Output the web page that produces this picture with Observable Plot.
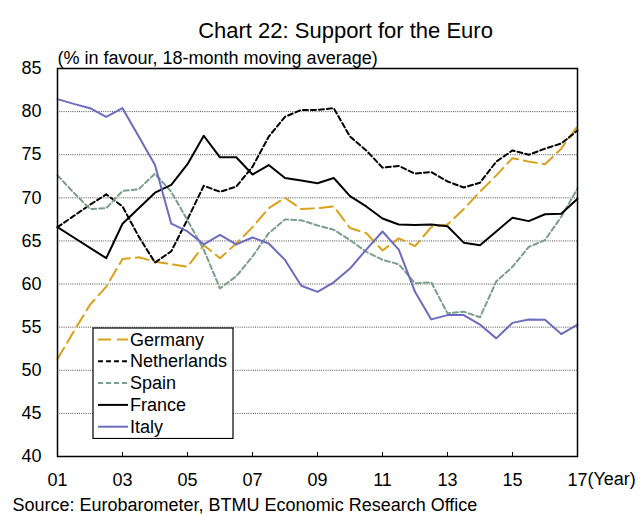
<!DOCTYPE html>
<html>
<head>
<meta charset="utf-8">
<script src="https://cdn.jsdelivr.net/npm/d3@7"></script>
<script src="https://cdn.jsdelivr.net/npm/@observablehq/plot@0.6"></script>
<style>
  html, body { margin: 0; padding: 0; background: #fff; }
  #wrap { position: relative; width: 640px; height: 514px; font-family: "Liberation Sans", Arial, sans-serif; }
</style>
</head>
<body>
<div id="wrap"></div>
<script>
const years = [2001,2001.5,2002,2002.5,2003,2003.5,2004,2004.5,2005,2005.5,2006,2006.5,2007,2007.5,2008,2008.5,2009,2009.5,2010,2010.5,2011,2011.5,2012,2012.5,2013,2013.5,2014,2014.5,2015,2015.5,2016,2016.5,2017];
const germany     = [51.3,54.5,57.6,59.7,62.9,63.1,62.6,62.3,62.0,64.5,63.0,64.7,66.6,68.8,70.0,68.7,68.8,69.0,66.5,65.9,63.9,65.3,64.4,66.6,66.9,68.7,70.7,72.6,74.6,74.2,73.9,75.7,78.3];
const netherlands = [66.6,67.9,69.2,70.4,69.0,65.5,62.5,63.8,67.5,71.4,70.7,71.3,73.6,77.1,79.4,80.2,80.2,80.4,77.1,75.5,73.5,73.7,72.8,73.0,71.9,71.2,71.75,74.2,75.5,75.0,75.7,76.3,77.8];
const spain       = [72.6,70.6,68.7,68.8,70.8,71.0,72.8,70.7,67.4,64.0,59.5,60.9,63.2,65.9,67.5,67.4,66.8,66.3,65.1,63.75,62.8,62.3,60.1,60.2,56.6,56.8,56.15,60.3,62.0,64.3,65.1,67.8,71.1];
const france      = [66.6,65.4,64.2,63.0,67.0,68.8,70.6,71.5,73.9,77.2,74.7,74.7,72.7,73.8,72.3,72.0,71.7,72.3,70.2,69.0,67.6,66.9,66.85,66.9,66.7,64.8,64.5,66.1,67.7,67.3,68.1,68.15,69.9];
const italy       = [81.45,80.9,80.4,79.4,80.4,77.1,73.8,67.0,66.1,64.6,65.7,64.6,65.4,64.7,62.8,59.8,59.1,60.2,61.8,64.0,66.1,64.0,59.1,55.9,56.4,56.4,55.3,53.7,55.5,55.9,55.85,54.2,55.3];

const seriesNames = ["Germany","Netherlands","Spain","France","Italy"];
const seriesValues = [germany, netherlands, spain, france, italy];
const xTicks = [2001,2003,2005,2007,2009,2011,2013,2015,2017];
const yTicks = [40,45,50,55,60,65,70,75,80,85];
const gridTicks = [45,50,55,60,65,70,75,80];

const title = "Chart 22: Support for the Euro";
const subtitle = "(% in favour, 18-month moving average)";
const source = "Source: Eurobarometer, BTMU Economic Research Office";
const xUnit = "(Year)";

const styles = {
  Germany:     {stroke: "#D9A11A", dash: "13,6"},
  Netherlands: {stroke: "#000000", dash: "5,3"},
  Spain:       {stroke: "#7A9E8C", dash: "5,3"},
  France:      {stroke: "#000000", dash: null},
  Italy:       {stroke: "#6B6BBF", dash: null}
};

const lineMarks = seriesNames.map((name, s) => {
  const rows = years.map((yr, i) => ({year: yr, v: seriesValues[s][i]}));
  return Plot.line(rows, {x: "year", y: "v", stroke: styles[name].stroke, strokeWidth: 2, strokeDasharray: styles[name].dash, strokeLinejoin: "round"});
});

const font = "Liberation Sans, Arial, sans-serif";

const chart = Plot.plot({
  width: 640,
  height: 514,
  marginLeft: 57,
  marginRight: 63,
  marginTop: 68,
  marginBottom: 58,
  style: {fontFamily: font, fontSize: "18px", color: "#000", background: "#fff", overflow: "visible"},
  x: {domain: [2001, 2017]},
  y: {domain: [40, 85]},
  marks: [
    Plot.gridY(gridTicks, {stroke: "#000", strokeOpacity: 0.7, strokeDasharray: "1,1.2", strokeWidth: 1}),
    Plot.axisY({ticks: yTicks, tickSize: 0, tickPadding: 16, label: null, fontSize: 18}),
    Plot.axisX({ticks: xTicks, tickSize: 0, tickPadding: 17, label: null, fontSize: 18, tickFormat: d => String(d % 100).padStart(2, "0")}),
    Plot.axisX({ticks: xTicks, tickSize: -4, label: null, tickFormat: () => ""}),
    ...lineMarks,
    Plot.frame({stroke: "#000", strokeWidth: 1.5}),
    Plot.text([title], {frameAnchor: "top-left", dx: 288, dy: -46, textAnchor: "middle", fontSize: 22}),
    Plot.text([subtitle], {frameAnchor: "top-left", dx: 0, dy: -17, textAnchor: "start", fontSize: 18}),
    Plot.text([source], {frameAnchor: "bottom-left", dx: -45, dy: 54, textAnchor: "start", fontSize: 18}),
    Plot.text([xUnit], {frameAnchor: "bottom-right", dx: 10, dy: 28, textAnchor: "start", fontSize: 18})
  ]
});
chart.style.position = "absolute";
chart.style.left = "0px";
chart.style.top = "0px";
const wrap = document.getElementById("wrap");
wrap.appendChild(chart);

// legend
const rowH = 21.8;
const lw = 140, lh = 110.5;
const ns = "http://www.w3.org/2000/svg";
const leg = document.createElementNS(ns, "svg");
leg.setAttribute("width", lw + 2);
leg.setAttribute("height", lh + 2);
leg.style.position = "absolute";
leg.style.left = "92px";
leg.style.top = "326.5px";
leg.style.fontFamily = font;
const box = document.createElementNS(ns, "rect");
box.setAttribute("x", 1); box.setAttribute("y", 1);
box.setAttribute("width", lw); box.setAttribute("height", lh);
box.setAttribute("fill", "#fff"); box.setAttribute("stroke", "#000"); box.setAttribute("stroke-width", 1.2);
leg.appendChild(box);
seriesNames.forEach((name, i) => {
  const cy = 12.5 + i * rowH;
  const ln = document.createElementNS(ns, "line");
  ln.setAttribute("x1", 6); ln.setAttribute("x2", 36);
  ln.setAttribute("y1", cy); ln.setAttribute("y2", cy);
  ln.setAttribute("stroke", styles[name].stroke);
  ln.setAttribute("stroke-width", 2);
  if (styles[name].dash) ln.setAttribute("stroke-dasharray", styles[name].dash);
  leg.appendChild(ln);
  const tx = document.createElementNS(ns, "text");
  tx.setAttribute("x", 38); tx.setAttribute("y", cy);
  tx.setAttribute("dominant-baseline", "central");
  tx.setAttribute("font-size", 18);
  tx.textContent = name;
  leg.appendChild(tx);
});
wrap.appendChild(leg);
</script>
</body>
</html>
